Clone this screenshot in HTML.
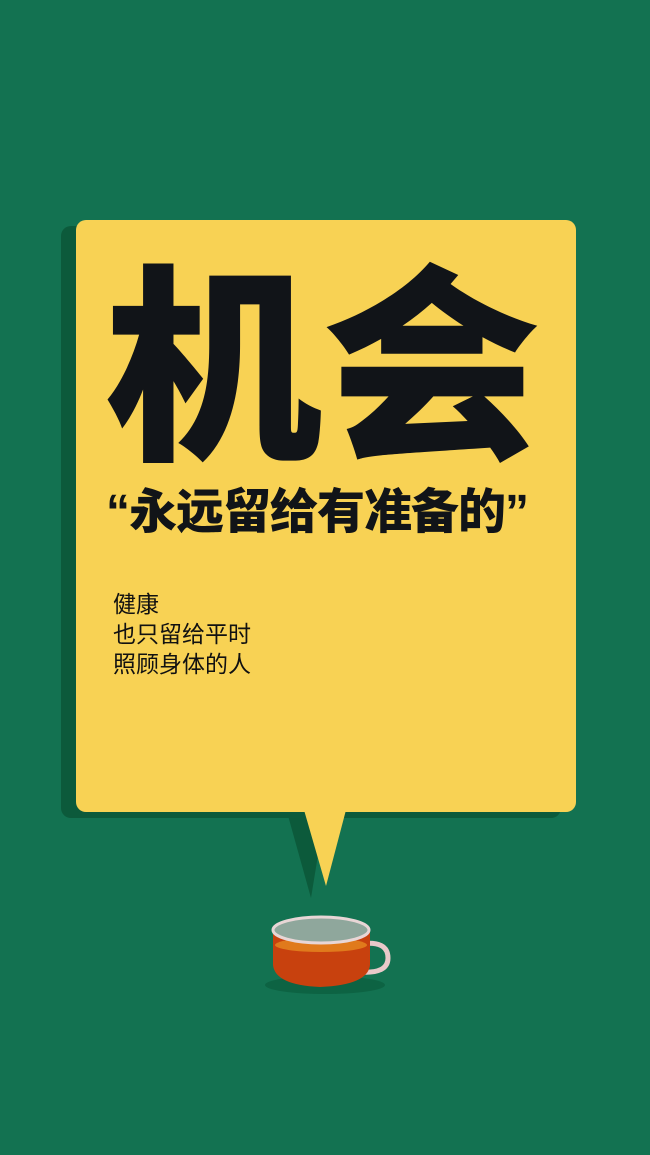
<!DOCTYPE html>
<html><head><meta charset="utf-8"><style>
html,body{margin:0;padding:0}
body{width:650px;height:1155px;background:#137251;position:relative;overflow:hidden;font-family:"Liberation Sans","Noto Sans CJK SC",sans-serif}
.shadow{position:absolute;left:61px;top:226px;width:500px;height:592px;background:#0c5a3b;border-radius:10px}
.box{position:absolute;left:76px;top:220px;width:500px;height:592px;background:#f8d254;border-radius:10px}
.big{position:absolute;left:104px;top:266px;font-size:210px;line-height:1;font-weight:900;color:#111418;white-space:nowrap;letter-spacing:0px;transform:scaleX(1.04);transform-origin:0 0}
.quote{position:absolute;left:106px;top:489px;font-size:48px;line-height:1;font-weight:900;color:#111418;white-space:nowrap;letter-spacing:-1px}
.small{position:absolute;left:113px;top:589px;font-size:23px;line-height:30px;color:#111;}
</style></head><body>
<div class="shadow"></div>
<svg width="650" height="1155" style="position:absolute;left:0;top:0">
<polygon points="287,812 325,812 311,898" fill="#0c5a3b"/>
</svg>
<div class="box"></div>
<svg width="650" height="1155" style="position:absolute;left:0;top:0">
<polygon points="304,810 346,810 326,886" fill="#f8d254"/>
<ellipse cx="325" cy="985" rx="60" ry="9" fill="#0d5f40" opacity="0.8"/>
<path d="M360,944 q28,-4 28,14 q0,16 -28,14" fill="none" stroke="#e8c9c9" stroke-width="5"/>
<path d="M273,930 L273,965 Q275,985 320,987 Q368,985 370,965 L370,930 Z" fill="#c8410e"/>
<ellipse cx="321" cy="945" rx="46" ry="7" fill="#e07a1c"/>
<ellipse cx="321" cy="930" rx="48" ry="13" fill="#8fa79c" stroke="#e8d6d6" stroke-width="3"/>
</svg>
<div class="big">机会</div>
<div class="quote">“永远留给有准备的”</div>
<div class="small">健康<br>也只留给平时<br>照顾身体的人</div>
</body></html>
